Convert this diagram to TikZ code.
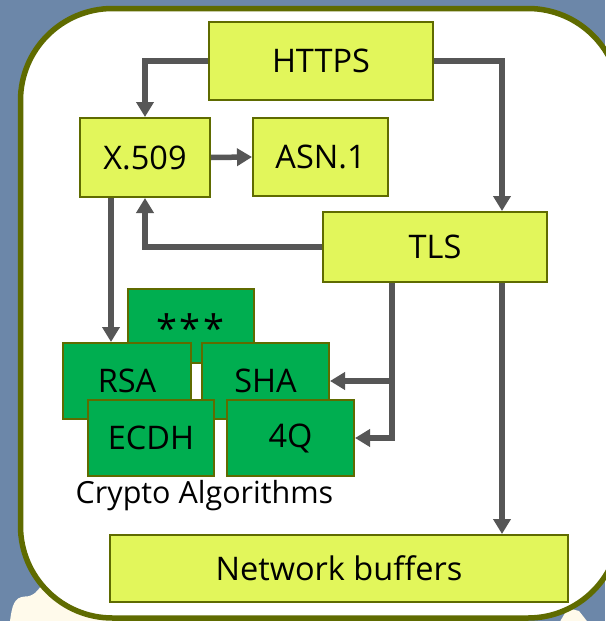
\documentclass[tikz,border=0pt]{standalone}
\usepackage{fontspec}
\setmainfont{Open Sans}
\usetikzlibrary{arrows.meta}
\definecolor{bgblue}{HTML}{6C87A9}
\definecolor{olive}{HTML}{5F6B00}
\definecolor{boxyellow}{HTML}{E2F65B}
\definecolor{boxgreen}{HTML}{00AE50}
\definecolor{arrowgray}{HTML}{565656}
\definecolor{cream}{HTML}{FFFAEB}
\tikzset{
  ybox/.style={draw=olive, line width=2pt, fill=boxyellow, inner sep=0pt},
  gbox/.style={draw=olive, line width=2pt, fill=boxgreen, inner sep=0pt},
  conn/.style={draw=arrowgray, line width=5.5pt, -{Triangle[width=17pt,length=15pt]}},
  lbl/.style={font=\fontsize{32.5}{38}\selectfont}
}
\begin{document}
\begin{tikzpicture}[x=1pt,y=-1pt]
\useasboundingbox (0,0) rectangle (605,621);
\fill[bgblue] (0,0) rectangle (605,621);
% cream blobs behind the panel
\begin{scope}
\clip (0,0) rectangle (605,621);
\fill[cream] (10,621) .. controls (12,606) and (14,597) .. (25,596.5)
  .. controls (33,596.5) and (38,592) .. (46,578) -- (200,578) -- (200,630) -- (8,630) -- cycle;
\fill[cream] (558,625) -- (568,608) -- (579,611) -- (590,625) -- cycle;
\end{scope}
% panel
\draw[olive, line width=5.5pt, fill=white, rounded corners=92pt] (20.5,8.5) rectangle (620,618);

% nodes
\node[ybox, lbl, minimum width=224pt, minimum height=78pt] (https) at (321,61) {HTTPS};
\node[ybox, lbl, minimum width=130pt, minimum height=79pt] (x509) at (145,157.5) {X.509};
\node[ybox, lbl, minimum width=135pt, minimum height=78pt] (asn) at (320.5,157) {ASN.1};
\node[ybox, lbl, minimum width=224pt, minimum height=70pt] (tls) at (435,247) {TLS};

\node[gbox, minimum width=126pt, minimum height=74pt] (stars) at (191,326) {};
\node[font=\fontsize{38}{42}\selectfont, inner sep=0pt] at (190.5,328) {*\hspace{3pt}*\hspace{3pt}*};
\node[gbox, lbl, minimum width=128pt, minimum height=76pt] (rsa) at (127,381) {RSA};
\node[gbox, lbl, minimum width=127pt, minimum height=76pt] (sha) at (265.5,381) {SHA};
\node[gbox, lbl, minimum width=126pt, minimum height=76pt] (ecdh) at (151,438) {ECDH};
\node[gbox, lbl, minimum width=127pt, minimum height=76pt] (q4) at (290.5,438) {4Q};
\node[font=\fontsize{30.5}{35}\selectfont, anchor=base, inner sep=0pt] (crypto) at (204.5,503) {Crypto Algorithms};

\node[ybox, lbl, minimum width=458pt, minimum height=67pt] (nb) at (339,568.5) {Network buffers};

% connectors
\draw[conn] (https.west) -| (x509.north);
\coordinate (tr) at ([xshift=67pt]tls.north);
\draw[conn] (https.east) -| (tr);
\draw[conn] (x509.east) -- (asn.west);
\draw[conn] (tls.west) -| (x509.south);
\coordinate (xs) at ([xshift=-34pt]x509.south);
\draw[conn] (xs) -- (xs |- rsa.north);
\coordinate (bx) at ([xshift=-43pt]tls.south);
\draw[conn] (bx) |- (q4.east);
\draw[conn] (bx |- sha.east) -- (sha.east);
\coordinate (br) at ([xshift=67pt]tls.south);
\draw[conn] (br) -- (br |- nb.north);
\end{tikzpicture}
\end{document}
